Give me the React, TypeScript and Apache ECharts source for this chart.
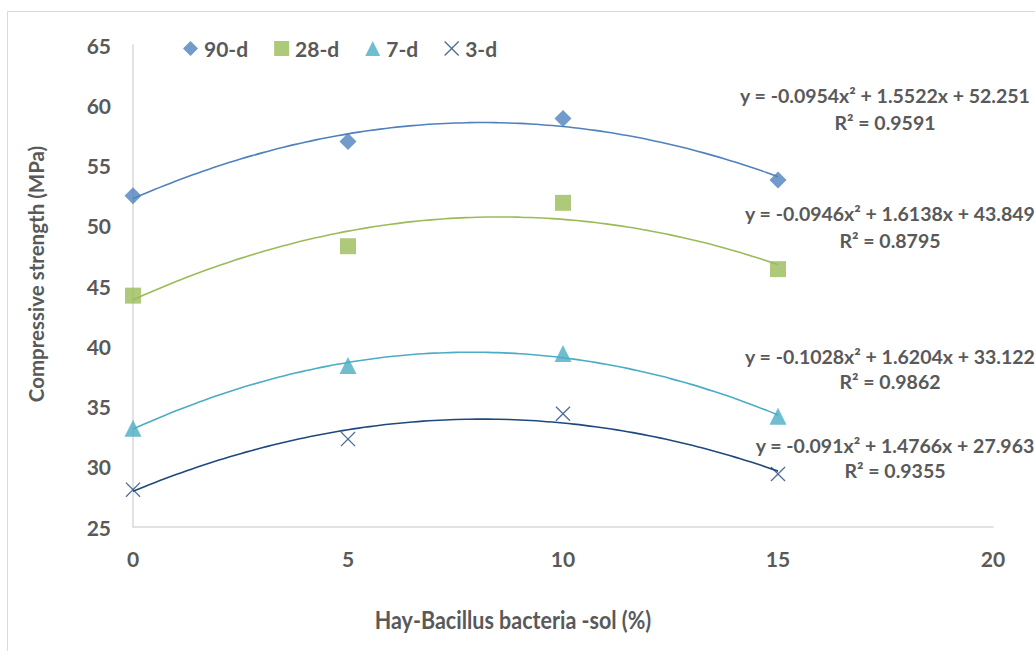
import React, { useEffect, useRef } from "react";
import * as echarts from "echarts";

const xValues = [0, 5, 10, 15];
const d90 = [52.5, 57.0, 58.9, 53.8];
const d28 = [44.2, 48.3, 51.9, 46.4];
const d7 = [33.2, 38.4, 39.4, 34.2];
const d3 = [28.1, 32.3, 34.4, 29.4];

// trendline coefficients [a, b, c] for y = a x^2 + b x + c (as printed on the chart)
const coef90 = [-0.0954, 1.5522, 52.251];
const coef28 = [-0.0946, 1.6138, 43.849];
const coef7 = [-0.1028, 1.6204, 33.122];
const coef3 = [-0.091, 1.4766, 27.963];

const eq90 = ["y = -0.0954x² + 1.5522x + 52.251", "R² = 0.9591"];
const eq28 = ["y = -0.0946x² + 1.6138x + 43.849", "R² = 0.8795"];
const eq7 = ["y = -0.1028x² + 1.6204x + 33.122", "R² = 0.9862"];
const eq3 = ["y = -0.091x² + 1.4766x + 27.963", "R² = 0.9355"];

const names = ["90-d", "28-d", "7-d", "3-d"];
const colors = ["#4F81BD", "#9BBB59", "#4BACC6", "#1F497D"];

const X_PATH =
  "path://M0,1.2L1.2,0L10,8.8L18.8,0L20,1.2L11.2,10L20,18.8L18.8,20L10,11.2L1.2,20L0,18.8L8.8,10Z";

const FONT = "Lato, 'Open Sans', sans-serif";
const TXT = "#595959";

function trend(c: number[]) {
  const pts: number[][] = [];
  for (let i = 0; i <= 60; i++) {
    const x = i * 0.25;
    pts.push([x, c[0] * x * x + c[1] * x + c[2]]);
  }
  return pts;
}

export default function App() {
  const ref = useRef<HTMLDivElement>(null);
  useEffect(() => {
    document.body.style.margin = "0";
    const chart = echarts.init(ref.current!, null, { renderer: "svg" });
    const symbols = ["diamond", "rect", "triangle", X_PATH];
    const sizes = [17, 16, 17, 15];
    const datas = [d90, d28, d7, d3];
    const coefs = [coef90, coef28, coef7, coef3];
    const eqs = [eq90, eq28, eq7, eq3];
    const eqPos = [
      [885, 95, 122],
      [890, 213, 240],
      [890, 356, 381],
      [895, 445, 470],
    ];
    const series: any[] = [];
    names.forEach((n, i) => {
      series.push({
        name: n + " trend",
        type: "line",
        data: trend(coefs[i]),
        showSymbol: false,
        smooth: true,
        lineStyle: { color: colors[i], width: 1.6 },
        silent: true,
        z: 2,
      });
    });
    names.forEach((n, i) => {
      series.push({
        name: n,
        type: "scatter",
        data: xValues.map((x, j) => [x, datas[i][j]]),
        symbol: symbols[i],
        symbolSize: sizes[i],
        itemStyle: { color: colors[i] },
        z: 3,
      });
    });
    const graphics: any[] = [
      {
        type: "rect",
        shape: { x: 7.5, y: 11.5, width: 1060, height: 700 },
        style: { fill: "none", stroke: "#d9d9d9", lineWidth: 1 },
        silent: true,
      },
      {
        type: "text",
        x: 36,
        y: 274,
        rotation: Math.PI / 2,
        style: {
          text: "Compressive strength (MPa)",
          fill: TXT,
          font: `bold 20.5px ${FONT}`,
          align: "center",
          verticalAlign: "middle",
        },
      },
      {
        type: "text",
        x: 513,
        y: 619,
        scaleX: 0.86,
        style: {
          text: "Hay-Bacillus bacteria -sol (%)",
          fill: TXT,
          font: `bold 25px ${FONT}`,
          align: "center",
          verticalAlign: "middle",
        },
      },
    ];
    eqs.forEach((e, i) => {
      graphics.push({
        type: "text",
        x: eqPos[i][0],
        y: eqPos[i][1],
        style: {
          text: e[0],
          fill: TXT,
          font: `bold 19.5px ${FONT}`,
          align: "center",
          verticalAlign: "middle",
        },
      });
      graphics.push({
        type: "text",
        x: eqPos[i][0],
        y: eqPos[i][2],
        style: {
          text: e[1],
          fill: TXT,
          font: `bold 19.5px ${FONT}`,
          align: "center",
          verticalAlign: "middle",
        },
      });
    });
    chart.setOption({
      animation: false,
      backgroundColor: "#ffffff",
      grid: { left: 133, right: 42, top: 45, bottom: 124 },
      legend: {
        data: names.map((n, i) => ({ name: n, icon: i === 3 ? X_PATH : symbols[i] })),
        left: 178,
        top: 33,
        itemWidth: 15,
        itemHeight: 15,
        itemGap: 26,
        textStyle: { color: TXT, fontSize: 21, fontWeight: "bold", fontFamily: FONT, padding: [0, 0, 0, 1] },
      },
      xAxis: {
        type: "value",
        min: 0,
        max: 20,
        interval: 5,
        axisLine: { lineStyle: { color: "#d9d9d9", width: 1.5 } },
        axisTick: { show: false },
        splitLine: { show: false },
        axisLabel: { color: TXT, fontSize: 21, fontWeight: "bold", fontFamily: FONT, margin: 21 },
      },
      yAxis: {
        type: "value",
        min: 25,
        max: 65,
        interval: 5,
        axisLine: { show: true, lineStyle: { color: "#d9d9d9", width: 1.5 } },
        axisTick: { show: false },
        splitLine: { show: false },
        axisLabel: { color: TXT, fontSize: 21, fontWeight: "bold", fontFamily: FONT, margin: 22 },
      },
      series,
      graphic: graphics,
    });
    return () => chart.dispose();
  }, []);
  return <div ref={ref} style={{ width: 1035, height: 651 }} />;
}
